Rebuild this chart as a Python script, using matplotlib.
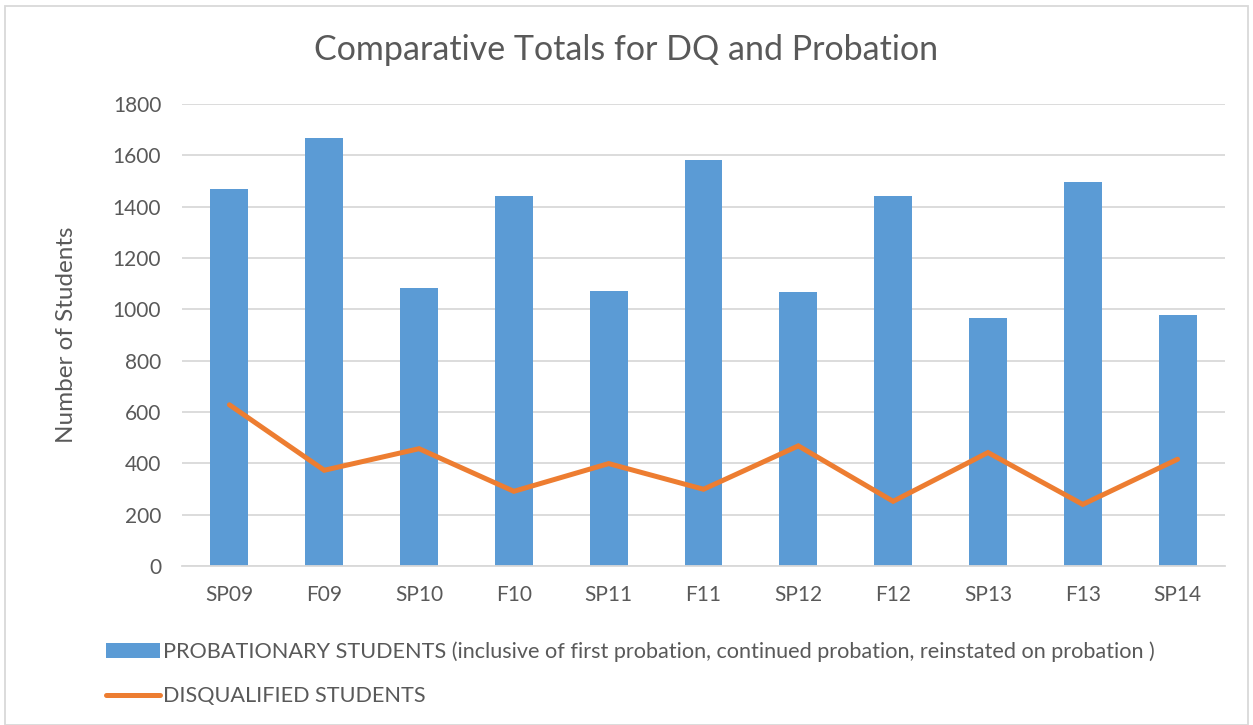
import matplotlib.pyplot as plt
from matplotlib.patches import Patch, Rectangle
from matplotlib.lines import Line2D

# terms on the x axis
terms = ['SP09', 'F09', 'SP10', 'F10', 'SP11', 'F11', 'SP12', 'F12', 'SP13', 'F13', 'SP14']

# probationary students (bars)
probation = [1470, 1668, 1083, 1440, 1071, 1580, 1067, 1442, 968, 1498, 976]

# disqualified students (line)
disqualified = [628, 373, 457, 291, 399, 299, 468, 252, 442, 240, 416]

bar_label = ('PROBATIONARY STUDENTS (inclusive of first probation, continued probation, '
             'reinstated on probation )')
line_label = 'DISQUALIFIED STUDENTS'

blue = '#5B9BD5'
orange = '#ED7D31'
text_gray = '#595959'
grid_gray = '#D9D9D9'

plt.rcParams['font.family'] = ['Lato', 'DejaVu Sans']

W, H = 1253, 725
fig = plt.figure(figsize=(W / 100, H / 100), dpi=100)
ax = fig.add_axes([182 / W, 1 - 566 / H, (1225 - 182) / W, (566 - 104) / H])

x = list(range(len(terms)))
ax.bar(x, probation, width=0.4, color=blue, zorder=2)
ax.plot(x, disqualified, color=orange, linewidth=3.6, solid_capstyle='round',
        solid_joinstyle='miter', zorder=3)

ax.set_xlim(-0.5, len(terms) - 0.5)
ax.set_ylim(0, 1800)
ax.set_yticks(range(0, 1801, 200))
ax.set_xticks(x)
ax.set_xticklabels(terms)
ax.tick_params(axis='both', length=0, labelsize=15, colors=text_gray)
ax.tick_params(axis='x', pad=14)
ax.tick_params(axis='y', pad=15)

ax.grid(axis='y', color=grid_gray, linewidth=1.3, zorder=0)
for side in ['top', 'right', 'left']:
    ax.spines[side].set_visible(False)
ax.spines['bottom'].set_color(grid_gray)
ax.spines['bottom'].set_linewidth(1.3)

ax.set_ylabel('Number of Students', fontsize=17.5, color=text_gray, labelpad=26)
fig.text(0.5, 1 - 50 / H, 'Comparative Totals for DQ and Probation', ha='center', va='center',
         fontsize=24.5, color=text_gray)

handles = [Patch(facecolor=blue, edgecolor='none'),
           Line2D([0], [0], color=orange, linewidth=3.6, solid_capstyle='round')]
fig.legend(handles, [bar_label, line_label], loc='upper left',
           bbox_to_anchor=(95 / W, 1 - 631 / H), frameon=False, fontsize=15.6,
           labelcolor=text_gray, handlelength=2.5, handleheight=0.7,
           handletextpad=0.15, labelspacing=1.1, borderpad=0)

# chart area border
fig.patches.append(Rectangle((5 / W, 0), 1 - 10 / W, 1 - 6 / H, transform=fig.transFigure,
                             fill=False, edgecolor=grid_gray, linewidth=1.3))

fig.savefig('out.png', dpi=100, facecolor='white')
